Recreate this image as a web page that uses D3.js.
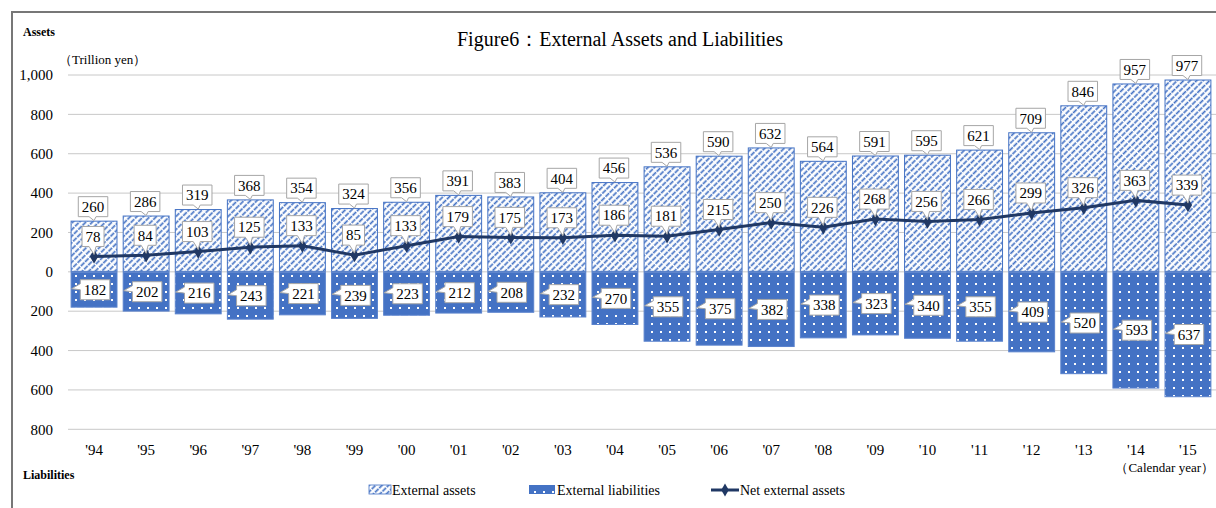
<!DOCTYPE html>
<html>
<head>
<meta charset="utf-8">
<script src="https://cdn.jsdelivr.net/npm/d3@7"></script>
<style>
  body { margin: 0; background: #fff; }
  text { font-family: "Liberation Serif", "Times New Roman", serif; fill: #000; }
</style>
</head>
<body>
<div id="vis"></div>
<script>
const width = 1216;
const height = 508;

// Data
const years = ["'94","'95","'96","'97","'98","'99","'00","'01","'02","'03","'04","'05","'06","'07","'08","'09","'10","'11","'12","'13","'14","'15"];
const assets = [260,286,319,368,354,324,356,391,383,404,456,536,590,632,564,591,595,621,709,846,957,977];
const liabilities = [182,202,216,243,221,239,223,212,208,232,270,355,375,382,338,323,340,355,409,520,593,637];
const netAssets = [78,84,103,125,133,85,133,179,175,173,186,181,215,250,226,268,256,266,299,326,363,339];
const yTicks = [-800,-600,-400,-200,0,200,400,600,800,1000];

const blue = "#4472C4";
const navy = "#203864";

const svg = d3.select("#vis").append("svg")
    .attr("width", width)
    .attr("height", height);

// Patterns
const defs = svg.append("defs");
const hatch = defs.append("pattern")
    .attr("id", "hatch")
    .attr("patternUnits", "userSpaceOnUse")
    .attr("width", 4.6).attr("height", 6)
    .attr("patternTransform", "rotate(45)");
hatch.append("rect").attr("width", 4.6).attr("height", 6).attr("fill", "#fff");
hatch.append("line")
    .attr("x1", 1.5).attr("y1", 0).attr("x2", 1.5).attr("y2", 6)
    .attr("stroke", blue).attr("stroke-width", 1.7)
    .attr("stroke-dasharray", "5,1");

const dots = defs.append("pattern")
    .attr("id", "dots")
    .attr("patternUnits", "userSpaceOnUse")
    .attr("width", 9).attr("height", 8);
dots.append("rect").attr("width", 9).attr("height", 8).attr("fill", blue);
dots.append("rect").attr("x", 3).attr("y", 3).attr("width", 2).attr("height", 2).attr("fill", "#fff");

// Outer frame
svg.append("path")
    .attr("d", "M12,520 L12,12 L1220,12")
    .attr("fill", "none")
    .attr("stroke", "#777")
    .attr("stroke-width", 2);

// Scales
const x = d3.scaleBand()
    .domain(years)
    .range([68, 1214])
    .paddingInner(0.1)
    .paddingOuter(0.05);

const y = d3.scaleLinear()
    .domain([-800, 1000])
    .range([429.3, 75]);

// Grid lines
svg.append("g")
    .selectAll("line")
    .data(yTicks)
    .enter().append("line")
    .attr("x1", 68).attr("x2", 1216)
    .attr("y1", d => y(d)).attr("y2", d => y(d))
    .attr("stroke", "#c8c8c8")
    .attr("stroke-width", 1);

// Y axis labels (liabilities shown as positive)
svg.append("g")
    .selectAll("text")
    .data(yTicks)
    .enter().append("text")
    .attr("x", 53)
    .attr("y", d => y(d))
    .attr("dy", "0.35em")
    .attr("text-anchor", "end")
    .style("font-size", "15px")
    .text(d => d3.format(",")(Math.abs(d)));

// X axis labels
svg.append("g")
    .selectAll("text")
    .data(years)
    .enter().append("text")
    .attr("x", d => x(d) + x.bandwidth() / 2)
    .attr("y", 455)
    .attr("text-anchor", "middle")
    .style("font-size", "15px")
    .text(d => d);

// Bars
const rows = years.map((yr, i) => ({ yr, a: assets[i], l: liabilities[i], n: netAssets[i] }));

svg.append("g")
    .selectAll("rect")
    .data(rows)
    .enter().append("rect")
    .attr("x", d => x(d.yr) + 0.5)
    .attr("y", d => y(d.a) + 0.5)
    .attr("width", x.bandwidth() - 1)
    .attr("height", d => y(0) - y(d.a) - 1)
    .attr("fill", "url(#hatch)")
    .attr("stroke", blue)
    .attr("stroke-width", 1);

svg.append("g")
    .selectAll("rect")
    .data(rows)
    .enter().append("rect")
    .attr("x", d => x(d.yr) + 0.5)
    .attr("y", y(0) + 0.5)
    .attr("width", x.bandwidth() - 1)
    .attr("height", d => y(-d.l) - y(0) - 1)
    .attr("fill", "url(#dots)")
    .attr("stroke", "#5a82cc")
    .attr("stroke-width", 1);

// Net external assets line
const line = d3.line()
    .x(d => x(d.yr) + x.bandwidth() / 2)
    .y(d => y(d.n));

svg.append("path")
    .datum(rows)
    .attr("d", line)
    .attr("fill", "none")
    .attr("stroke", navy)
    .attr("stroke-width", 3);

svg.append("g")
    .selectAll("path")
    .data(rows)
    .enter().append("path")
    .attr("transform", d => `translate(${x(d.yr) + x.bandwidth() / 2},${y(d.n)})`)
    .attr("d", d3.symbol().type(d3.symbolDiamond).size(60))
    .attr("fill", navy);

// Callout boxes
const boxH = 20;
function textW(v) { return String(v).length * 7.5 + 7; }

// callout with tail pointing down to (tx, ty)
function calloutDown(g, cx, boxBottom, tx, ty, label) {
    const w = textW(label);
    const x0 = cx - w / 2, x1 = cx + w / 2, y1 = boxBottom, y0 = boxBottom - boxH;
    const p = `M${x0},${y0} L${x1},${y0} L${x1},${y1} L${cx + 3},${y1} L${tx},${ty} L${cx - 4},${y1} L${x0},${y1} Z`;
    g.append("path").attr("d", p).attr("fill", "#fff").attr("stroke", "#a6a6a6").attr("stroke-width", 1);
    g.append("text").attr("x", cx).attr("y", y0 + boxH / 2).attr("dy", "0.35em")
        .attr("text-anchor", "middle").style("font-size", "15px").text(label);
}

// callout with tail pointing left to (tx, ty)
function calloutLeft(g, cx, cy, tx, ty, label) {
    const w = textW(label);
    const x0 = cx - w / 2, x1 = cx + w / 2, y0 = cy - boxH / 2, y1 = cy + boxH / 2;
    const p = `M${x0},${y0} L${x1},${y0} L${x1},${y1} L${x0},${y1} L${x0},${cy} L${tx},${ty} L${x0},${cy - 6} Z`;
    g.append("path").attr("d", p).attr("fill", "#fff").attr("stroke", "#a6a6a6").attr("stroke-width", 1);
    g.append("text").attr("x", cx).attr("y", cy).attr("dy", "0.35em")
        .attr("text-anchor", "middle").style("font-size", "15px").text(label);
}

const labels = svg.append("g");
rows.forEach(d => {
    const cx = x(d.yr) + x.bandwidth() / 2;
    // asset totals
    calloutDown(labels, cx - 1, y(d.a) - 4, cx, y(d.a), d.a);
    // liabilities
    const mid = (y(0) + y(-d.l)) / 2;
    calloutLeft(labels, cx + 1, mid, x(d.yr) + 1, mid - 1, d.l);
});
rows.forEach(d => {
    const cx = x(d.yr) + x.bandwidth() / 2;
    calloutDown(labels, cx - 1, y(d.n) - 10, cx, y(d.n) - 2, d.n);
});

// Titles and captions
svg.append("text")
    .attr("x", 620).attr("y", 46)
    .attr("text-anchor", "middle")
    .style("font-size", "20px")
    .text("Figure6：External Assets and Liabilities");

svg.append("text")
    .attr("x", 23).attr("y", 36)
    .style("font-size", "12px").style("font-weight", "bold")
    .text("Assets");

svg.append("text")
    .attr("x", 59).attr("y", 64)
    .style("font-size", "13px")
    .text("（Trillion yen）");

svg.append("text")
    .attr("x", 23).attr("y", 479)
    .style("font-size", "12px").style("font-weight", "bold")
    .text("Liabilities");

svg.append("text")
    .attr("x", 1214).attr("y", 472)
    .attr("text-anchor", "end")
    .style("font-size", "13px")
    .text("（Calendar year）");

// Legend
const legend = svg.append("g");
legend.append("rect").attr("x", 369).attr("y", 485).attr("width", 22).attr("height", 9)
    .attr("fill", "url(#hatch)").attr("stroke", blue).attr("stroke-width", 0.8);
legend.append("text").attr("x", 392).attr("y", 495).style("font-size", "14px").text("External assets");

legend.append("rect").attr("x", 529).attr("y", 485).attr("width", 26).attr("height", 9)
    .attr("fill", "url(#dots)");
legend.append("text").attr("x", 557).attr("y", 495).style("font-size", "14px").text("External liabilities");

legend.append("line").attr("x1", 711).attr("x2", 739).attr("y1", 490).attr("y2", 490)
    .attr("stroke", navy).attr("stroke-width", 3);
legend.append("path").attr("transform", "translate(725,490)")
    .attr("d", d3.symbol().type(d3.symbolDiamond).size(50)).attr("fill", navy);
legend.append("text").attr("x", 740).attr("y", 495).style("font-size", "14px").text("Net external assets");
</script>
</body>
</html>
